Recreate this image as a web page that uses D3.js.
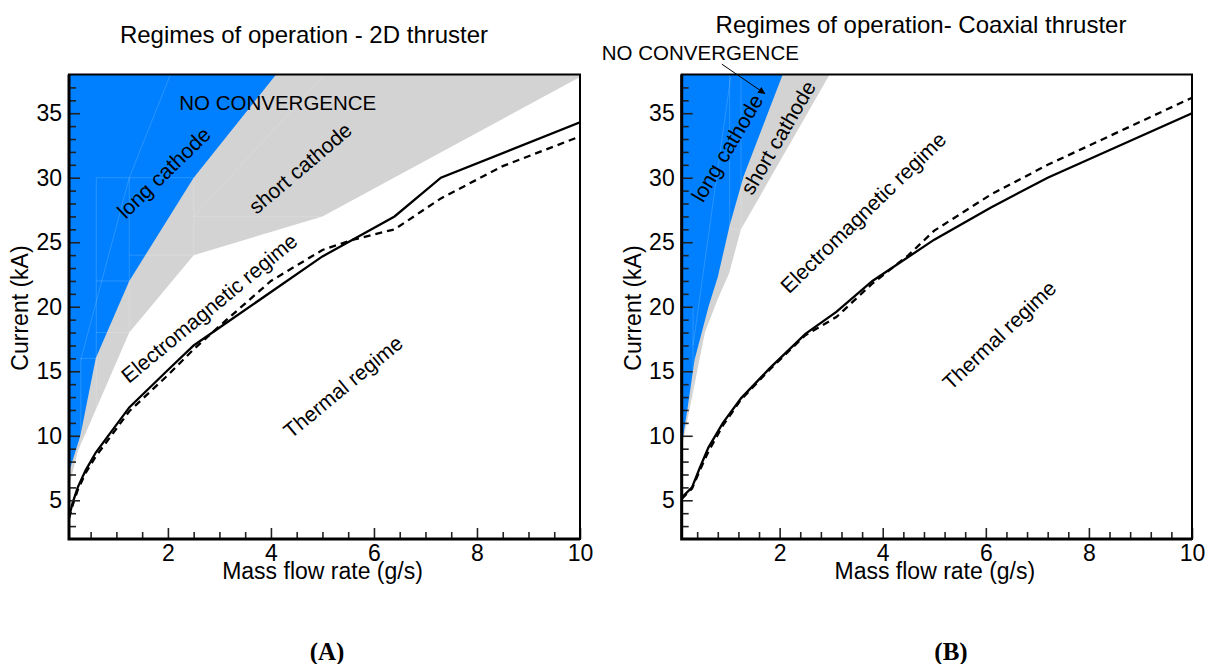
<!DOCTYPE html>
<html lang="en">
<head>
<meta charset="UTF-8">
<title>Regimes of operation</title>
<script src="https://cdn.jsdelivr.net/npm/d3@7"></script>
<style>
  body { margin: 0; background: #fff; }
  svg text { font-family: "Liberation Sans", Arial, sans-serif; fill: #000; }
</style>
</head>
<body>
<script>

// tick labels
var xTickValues = [2, 4, 6, 8, 10];
var yTickValues = [5, 10, 15, 20, 25, 30, 35];

// (A) 2D thruster -- region edges and boundary curves [mass flow g/s, current kA]
var blueEdgeA = [[0.08, 7.2], [0.3, 10], [0.6, 16], [1.25, 22], [2.5, 30], [4.1, 38]];
var grayEdgeA = [[0.08, 6], [0.25, 8.8], [1.25, 18], [2.5, 24], [5, 27], [10, 37.8]];
var solidA = [[0.08, 3.7], [0.15, 4.8], [0.25, 6], [0.4, 7.3], [0.6, 8.7], [1.25, 12.2],
              [2, 15.1], [2.5, 17], [5, 23.9], [6.4, 27], [7.3, 30], [10, 34.3]];
var dashedA = [[0.08, 3.6], [0.15, 4.6], [0.25, 5.8], [0.4, 7.1], [0.6, 8.4], [1.25, 11.9],
               [2, 14.7], [2.5, 16.7], [3, 18.5], [4, 22], [5, 24.4], [5.6, 25.2],
               [6.4, 26], [7.3, 28.4], [8.5, 30.9], [10, 33.2]];
// faint mesh lines seen inside the shaded zones
var meshA = [
  [[0.31, 15.9], [1.25, 30], [2.05, 38]],
  [[0.31, 5], [0.31, 16]], [[0.61, 8], [0.61, 30]], [[1.25, 12], [1.25, 30]], [[2.5, 24], [2.5, 30]],
  [[0.31, 16], [0.61, 16]], [[0.61, 18], [1.25, 18]], [[0.61, 22], [1.25, 22]],
  [[1.25, 24], [2.5, 24]], [[2.5, 27], [5, 27]], [[0.61, 30], [2.5, 30]],
  [[2.5, 27], [5, 37.8]]
];

// (B) Coaxial thruster
var blueEdgeB = [[0.1, 9.2], [0.22, 12.3], [0.35, 15.9], [0.62, 20], [0.8, 22.3], [1.03, 26.3],
                 [1.3, 30.1], [1.8, 35.3], [2.06, 38]];
var grayEdgeB = [[0.1, 9], [0.25, 12], [0.55, 18], [0.8, 20.6], [1.02, 22.6], [1.25, 26], [2.97, 38]];
var solidB = [[0.1, 5.2], [0.3, 6], [0.45, 7.5], [0.62, 9.1], [0.9, 11], [1.25, 12.9], [1.8, 15.2],
              [2.5, 17.9], [3.1, 19.6], [3.8, 22], [5, 25.2], [6.1, 27.7], [7.2, 30], [8.6, 32.5], [10, 35]];
var dashedB = [[0.1, 5.1], [0.3, 5.9], [0.45, 7.3], [0.62, 8.8], [0.9, 10.8], [1.25, 12.8], [1.8, 15.1],
               [2.5, 17.8], [3.1, 19.2], [3.8, 21.8], [4.5, 24], [5, 25.9], [6.1, 28.7], [7.2, 31],
               [8.6, 33.6], [10, 36.2]];
var meshB = [
  [[0.32, 17], [1.05, 37.8]],
  [[0.32, 8], [0.32, 20]], [[1.03, 26], [1.03, 38]], [[1.25, 26], [1.25, 38]], [[1.03, 26], [1.25, 26]]
];

var W = 1213, H = 664;
var svg = d3.select("body").append("svg").attr("width", W).attr("height", H);

function panel(o) {
  var x = d3.scaleLinear().domain([o.xmin, 10]).range([o.left, o.right]);
  var y = d3.scaleLinear().domain([2, 38]).range([539, 74.5]);
  var g = svg.append("g");
  var line = d3.line().x(function (d) { return x(d[0]); }).y(function (d) { return y(d[1]); });

  // clip to plot box
  svg.append("clipPath").attr("id", "box" + o.id)
    .append("rect").attr("x", o.left).attr("y", y(38)).attr("width", o.right - o.left).attr("height", y(2) - y(38));

  var grayPoly = o.gray.concat([[10, 38], [o.xmin, 38]]);
  var bluePoly = o.blue.concat([[o.xmin, 38]]);

  var shade = g.append("g").attr("clip-path", "url(#box" + o.id + ")");
  shade.append("path").attr("d", line(grayPoly) + "Z").attr("fill", "#d3d3d3");
  shade.append("path").attr("d", line(bluePoly) + "Z").attr("fill", "#0080ff");

  // mesh only inside shaded zones
  var cp = svg.append("clipPath").attr("id", "shade" + o.id);
  cp.append("path").attr("d", line(grayPoly) + "Z");
  g.append("g").attr("clip-path", "url(#shade" + o.id + ")")
    .selectAll("path").data(o.mesh).enter().append("path")
    .attr("d", line).attr("fill", "none").attr("stroke", "#fff").attr("stroke-opacity", 0.16).attr("stroke-width", 1);

  var curves = g.append("g").attr("clip-path", "url(#box" + o.id + ")");
  curves.append("path").attr("d", line(o.dashed)).attr("fill", "none")
    .attr("stroke", "#000").attr("stroke-width", 2.3).attr("stroke-dasharray", "7,5");
  curves.append("path").attr("d", line(o.solid)).attr("fill", "none")
    .attr("stroke", "#000").attr("stroke-width", 2.3);

  // axes, ticks inward
  var xMinor = d3.range(o.xstep, 10, o.xstep).filter(function (v) { return Math.abs(v / 2 - Math.round(v / 2)) > 1e-6; });
  var yMinor = d3.range(3, 38, 1).filter(function (v) { return v % 5 !== 0; });

  function styleAxis(sel) {
    sel.select(".domain").remove();
    sel.selectAll("line").attr("stroke", "#222").attr("stroke-width", 1.6);
    sel.selectAll("text").style("font-size", "23px").attr("fill", "#000");
  }
  g.append("g").attr("transform", "translate(0,539)")
    .call(d3.axisBottom(x).tickValues(xMinor).tickSize(-7).tickFormat("")).call(styleAxis);
  g.append("g").attr("transform", "translate(0,539)")
    .call(d3.axisBottom(x).tickValues(xTickValues).tickSize(-11).tickPadding(6).tickFormat(d3.format("d"))).call(styleAxis);
  g.append("g").attr("transform", "translate(" + o.left + ",0)")
    .call(d3.axisLeft(y).tickValues(yMinor).tickSize(-7).tickFormat("")).call(styleAxis);
  g.append("g").attr("transform", "translate(" + o.left + ",0)")
    .call(d3.axisLeft(y).tickValues(yTickValues).tickSize(-11).tickPadding(7).tickFormat(d3.format("d"))).call(styleAxis);

  // frame
  g.append("rect").attr("x", o.left).attr("y", y(38)).attr("width", o.right - o.left).attr("height", y(2) - y(38))
    .attr("fill", "none").attr("stroke", "#000").attr("stroke-width", 2);
  g.append("path").attr("d", "M" + o.left + "," + y(38) + "V" + y(2) + "H" + o.right)
    .attr("fill", "none").attr("stroke", "#000").attr("stroke-width", 3);

  // titles and axis labels
  g.append("text").attr("x", o.titleX).attr("y", o.titleY).attr("text-anchor", "middle")
    .style("font-size", "24px").text(o.title);
  g.append("text").attr("x", (o.left + o.right) / 2 - 2).attr("y", 579).attr("text-anchor", "middle")
    .style("font-size", "23px").text("Mass flow rate (g/s)");
  g.append("text").attr("transform", "translate(" + (o.left - 41) + ",308) rotate(-90)").attr("text-anchor", "middle")
    .style("font-size", "23px").text("Current (kA)");
  g.append("text").attr("x", o.panelX).attr("y", 660).attr("text-anchor", "middle")
    .style("font-family", "'Liberation Serif', 'Times New Roman', serif").style("font-weight", "bold")
    .style("font-size", "25px").text(o.panel);

  // region labels
  o.labels.forEach(function (L) {
    g.append("text").attr("transform", "translate(" + x(L.at[0]) + "," + y(L.at[1]) + ") rotate(" + L.rot + ")")
      .attr("text-anchor", L.anchor || "middle").attr("dy", L.anchor ? 0 : "0.35em")
      .style("font-size", L.size + "px").text(L.text);
  });

  if (o.arrow) {
    svg.append("defs").append("marker").attr("id", "ah").attr("viewBox", "0 0 10 10")
      .attr("refX", 10).attr("refY", 5).attr("markerWidth", 9).attr("markerHeight", 7).attr("orient", "auto")
      .attr("markerUnits", "userSpaceOnUse")
      .append("path").attr("d", "M0,0L10,5L0,10Z").attr("fill", "#000");
    g.append("path").attr("d", line(o.arrow)).attr("stroke", "#000").attr("stroke-width", 1)
      .attr("fill", "none").attr("marker-end", "url(#ah)");
  }
}

panel({
  id: "A", xmin: 0.08, xstep: 0.5, left: 69, right: 580,
  blue: blueEdgeA, gray: grayEdgeA, solid: solidA, dashed: dashedA, mesh: meshA,
  title: "Regimes of operation - 2D thruster", titleX: 304, titleY: 43,
  panel: "(A)", panelX: 327,
  labels: [
    { text: "NO CONVERGENCE", at: [2.22, 35.25], rot: 0, size: 20.5, anchor: "start" },
    { text: "long cathode", at: [1.92, 30.4], rot: -44, size: 21 },
    { text: "short cathode", at: [4.57, 30.75], rot: -40.4, size: 21 },
    { text: "Electromagnetic regime", at: [2.8, 19.9], rot: -39.5, size: 21 },
    { text: "Thermal regime", at: [5.4, 13.8], rot: -39.6, size: 21 }
  ]
});

panel({
  id: "B", xmin: 0.1, xstep: 0.4, left: 681.7, right: 1192,
  blue: blueEdgeB, gray: grayEdgeB, solid: solidB, dashed: dashedB, mesh: meshB,
  title: "Regimes of operation- Coaxial thruster", titleX: 921, titleY: 33,
  panel: "(B)", panelX: 951,
  labels: [
    { text: "NO CONVERGENCE", at: [-1.45, 39.1], rot: 0, size: 20.5, anchor: "start" },
    { text: "long cathode", at: [0.98, 32.3], rot: -59.5, size: 21 },
    { text: "short cathode", at: [1.97, 33.1], rot: -59.7, size: 21 },
    { text: "Electromagnetic regime", at: [3.62, 27.3], rot: -44, size: 21 },
    { text: "Thermal regime", at: [6.26, 17.8], rot: -43.5, size: 21 }
  ],
  arrow: [[0.88, 38.8], [1.72, 36.5]]
});

</script>
</body>
</html>
